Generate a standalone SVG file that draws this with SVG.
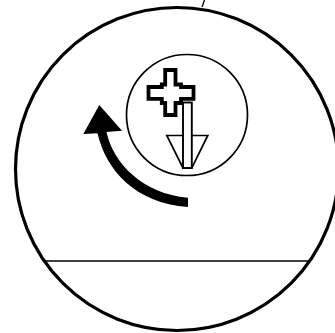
<svg xmlns="http://www.w3.org/2000/svg" width="335" height="333" viewBox="0 0 335 333">
<style>.o{fill:none;stroke:#000}.w{fill:#fff;stroke:#000}</style>
<rect width="335" height="333" fill="#fff"/>
<g id="outer"><circle class="o" cx="177" cy="169" r="161.500" stroke-width="3.200"/></g>
<g id="connectors">
<line class="o" x1="204.500" y1="0" x2="202" y2="7" stroke-width="1.300"/>
<line class="o" x1="44" y1="261" x2="310" y2="261" stroke-width="1.700"/>
</g>
<g id="inner"><circle class="o" cx="187" cy="115" r="60.500" stroke-width="1.700"/></g>
<g id="cross"><path class="w" d="M165.200 70H175.500V84.500H181V87H193.500V98.900H181V103H175.500V115H165.200V103H161.800V98.900H148.500V87H161.800V84.500H165.200Z" stroke-width="3.800"/></g>
<g id="down-arrow">
<path class="o" d="M183 168L166.800 135.500H207.800L191.800 168Z" stroke-width="1.700"/>
<rect x="183" y="102.500" width="8.800" height="65.500" class="w" stroke-width="1.900"/>
</g>
<g id="big-arrow"><path fill="#000" d="M99.300 105L122 130.700L106.500 132C113 163 143 194 188 197.700V207C135 203 106 170 97.500 133.200L83.300 134Z"/></g>
</svg>
